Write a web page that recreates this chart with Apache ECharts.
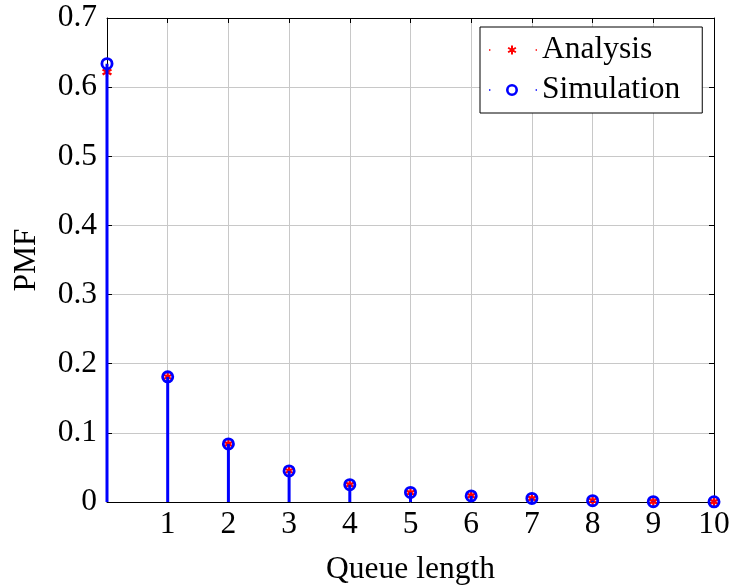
<!DOCTYPE html>
<html>
<head>
<meta charset="utf-8">
<script src="https://cdn.jsdelivr.net/npm/echarts@6/dist/echarts.min.js"></script>
<style>html,body{margin:0;padding:0;background:#fff}#c{width:731px;height:587px}</style>
</head>
<body>
<div id="c"></div>
<script>
const queueLength = [0, 1, 2, 3, 4, 5, 6, 7, 8, 9, 10];
const analysis   = [0.622, 0.181, 0.084, 0.045, 0.025, 0.0135, 0.009, 0.005, 0.002, 0.0006, 0.0003];
const simulation = [0.634, 0.181, 0.084, 0.045, 0.025, 0.0138, 0.0088, 0.0052, 0.0019, 0.0005, 0.0003];
const xTickLabels = ['1', '2', '3', '4', '5', '6', '7', '8', '9', '10'];
const yTickLabels = ['0', '0.1', '0.2', '0.3', '0.4', '0.5', '0.6', '0.7'];

const FONT = 'Liberation Serif';
const FS = 31.5;
const RED = '#ff0000', BLUE = '#0000ff';

const asteriskPath = 'path://M-1,-4.5L1,-4.5L1,4.5L-1,4.5Z' +
  'M3.40,-3.12L4.40,-1.38L-3.40,3.12L-4.40,1.38Z' +
  'M-4.40,-1.38L-3.40,-3.12L4.40,1.38L3.40,3.12Z';
const ringPath = 'path://M0,6A6,6 0 1,0 12,6A6,6 0 1,0 0,6Z' +
  'M2.6,6A3.4,3.4 0 1,1 9.4,6A3.4,3.4 0 1,1 2.6,6Z';

// legend icons: dot, marker, dot (bounding box 48x12)
const corner = 'M0,0L0.01,0L0.01,0.01Z M47.99,11.99L48,11.99L48,12Z';
const dots = 'M0,5.3L1.4,5.3L1.4,6.7L0,6.7Z M46.6,5.3L48,5.3L48,6.7L46.6,6.7Z';
const legAst = 'path://' + corner + dots +
  'M22,1.5L24,1.5L24,10.5L22,10.5Z' +
  'M26.40,2.88L27.40,4.62L19.60,9.12L18.60,7.38Z' +
  'M18.60,4.62L19.60,2.88L27.40,7.38L26.40,9.12Z';
const legRing = 'path://' + corner + dots +
  'M17,6A6,6 0 1,0 29,6A6,6 0 1,0 17,6Z' +
  'M19.6,6A3.4,3.4 0 1,1 26.4,6A3.4,3.4 0 1,1 19.6,6Z';

function pairs(vals) { return queueLength.map((x, i) => [x, vals[i]]); }

function stemSeries(name, vals, color, width, z) {
  return {
    type: 'custom', name: name, z: z, silent: true,
    data: pairs(vals),
    renderItem: function (params, api) {
      const p0 = api.coord([api.value(0), 0]);
      const p1 = api.coord([api.value(0), api.value(1)]);
      return { type: 'line', shape: { x1: p0[0], y1: p0[1], x2: p1[0], y2: p1[1] },
               style: { stroke: color, lineWidth: width } };
    }
  };
}

const chart = echarts.init(document.getElementById('c'));
chart.setOption({
  animation: false,
  grid: { left: 107, right: 17, top: 18, bottom: 85, containLabel: false, outerBoundsMode: 'none' },
  legend: {
    orient: 'vertical', left: 480, top: 27,
    backgroundColor: '#fff', borderColor: '#000', borderWidth: 1,
    padding: [7, 22, 7, 9],
    itemWidth: 48, itemHeight: 12, itemGap: 8,
    textStyle: { fontFamily: FONT, fontSize: FS, color: '#000', lineHeight: 31 },
    data: [
      { name: 'Analysis', icon: legAst, itemStyle: { color: RED, borderWidth: 0 } },
      { name: 'Simulation', icon: legRing, itemStyle: { color: BLUE, borderWidth: 0 } }
    ]
  },
  xAxis: [{
    type: 'value', min: 0, max: 10, interval: 1,
    name: 'Queue length', nameLocation: 'middle', nameGap: 52,
    nameTextStyle: { fontFamily: FONT, fontSize: FS, color: '#000' },
    axisLine: { show: true, onZero: false, lineStyle: { color: '#000', width: 1 } },
    axisTick: { show: true, inside: true, length: 5, lineStyle: { color: '#000' } },
    axisLabel: { fontFamily: FONT, fontSize: FS, color: '#000', margin: 7,
      formatter: v => (v >= 1 ? xTickLabels[Math.round(v) - 1] : '') },
    splitLine: { show: true, lineStyle: { color: '#c8c8c8', width: 1 } }
  }, {
    type: 'value', position: 'top', min: 0, max: 10, interval: 1,
    axisLine: { show: true, onZero: false, lineStyle: { color: '#000', width: 1 } },
    axisTick: { show: true, inside: true, length: 5, lineStyle: { color: '#000' } },
    axisLabel: { show: false }, splitLine: { show: false }
  }],
  yAxis: [{
    type: 'value', min: 0, max: 0.7, interval: 0.1,
    name: 'PMF', nameLocation: 'middle', nameGap: 64, nameRotate: 90,
    nameTextStyle: { fontFamily: FONT, fontSize: FS, color: '#000' },
    axisLine: { show: true, onZero: false, lineStyle: { color: '#000', width: 1 } },
    axisTick: { show: true, inside: true, length: 5, lineStyle: { color: '#000' } },
    axisLabel: { fontFamily: FONT, fontSize: FS, color: '#000', margin: 10,
      formatter: v => yTickLabels[Math.round(v * 10)] },
    splitLine: { show: true, lineStyle: { color: '#c8c8c8', width: 1 } }
  }, {
    type: 'value', position: 'right', min: 0, max: 0.7, interval: 0.1,
    axisLine: { show: true, onZero: false, lineStyle: { color: '#000', width: 1 } },
    axisTick: { show: true, inside: true, length: 5, lineStyle: { color: '#000' } },
    axisLabel: { show: false }, splitLine: { show: false }
  }],
  series: [
    stemSeries('Analysis stems', analysis, RED, 1.5, 3),
    {
      type: 'scatter', name: 'Analysis', z: 4, clip: false,
      data: pairs(analysis), symbol: asteriskPath, symbolSize: 10,
      itemStyle: { color: RED, opacity: 1 }
    },
    stemSeries('Simulation stems', simulation, BLUE, 3, 5),
    {
      type: 'scatter', name: 'Simulation', z: 6, clip: false,
      data: pairs(simulation), symbol: ringPath, symbolSize: 13,
      itemStyle: { color: BLUE, opacity: 1 }
    }
  ]
});
</script>
</body>
</html>
